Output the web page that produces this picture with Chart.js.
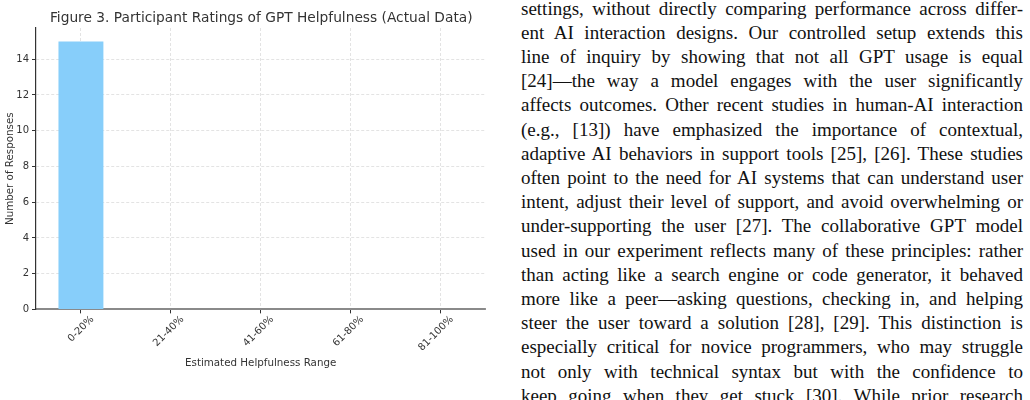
<!DOCTYPE html>
<html>
<head>
<meta charset="utf-8">
<script src="https://cdn.jsdelivr.net/npm/chart.js@4"></script>
<style>
  html, body { margin: 0; padding: 0; background: #fff; }
  body { width: 1030px; height: 400px; position: relative; overflow: hidden; }
  #chart-wrap { position: absolute; left: 0; top: 0; width: 521px; height: 400px; }
  #text { position: absolute; left: 521px; top: -3.5px; width: 502px;
    font-family: "Liberation Serif", "Times New Roman", serif; font-size: 19px;
    line-height: 24.2px; color: #111; }
  #text div { text-align: justify; text-align-last: justify; hyphens: none; }
</style>
</head>
<body>
<div id="chart-wrap"><canvas id="ratings" width="521" height="400"></canvas></div>
<div id="text">
  <div>settings, without directly comparing performance across differ-</div>
  <div>ent AI interaction designs. Our controlled setup extends this</div>
  <div>line of inquiry by showing that not all GPT usage is equal</div>
  <div>[24]—the way a model engages with the user significantly</div>
  <div>affects outcomes. Other recent studies in human-AI interaction</div>
  <div>(e.g., [13]) have emphasized the importance of contextual,</div>
  <div>adaptive AI behaviors in support tools [25], [26]. These studies</div>
  <div>often point to the need for AI systems that can understand user</div>
  <div>intent, adjust their level of support, and avoid overwhelming or</div>
  <div>under-supporting the user [27]. The collaborative GPT model</div>
  <div>used in our experiment reflects many of these principles: rather</div>
  <div>than acting like a search engine or code generator, it behaved</div>
  <div>more like a peer—asking questions, checking in, and helping</div>
  <div>steer the user toward a solution [28], [29]. This distinction is</div>
  <div>especially critical for novice programmers, who may struggle</div>
  <div>not only with technical syntax but with the confidence to</div>
  <div>keep going when they get stuck [30]. While prior research</div>
</div>
<script>
const ranges = ['0-20%', '21-40%', '41-60%', '61-80%', '81-100%'];
const responses = [15, 0, 0, 0, 0];

const font = 'DejaVu Sans';

// Figure 3 - histogram of helpfulness ratings
const ratingsCtx = document.getElementById('ratings').getContext('2d');
new Chart(ratingsCtx, {
  type: 'bar',
  data: {
    labels: ranges,
    datasets: [{
      data: responses,
      backgroundColor: '#87CEFA',
      borderWidth: 0,
      barPercentage: 0.5,
      categoryPercentage: 1
    }]
  },
  options: {
    responsive: false,
    animation: false,
    layout: { padding: { left: 1.5, right: 0, top: 0, bottom: 30 } },
    plugins: {
      legend: { display: false },
      tooltip: { enabled: false },
      title: {
        display: true,
        text: 'Figure 3. Participant Ratings of GPT Helpfulness (Actual Data)',
        color: '#333',
        font: { family: font, size: 13.75, weight: 'normal' },
        padding: { top: 10, bottom: 1.5 }
      }
    },
    scales: {
      x: {
        z: 1,
        grid: { offset: false, color: '#dcdcdc', lineWidth: 0.8, tickColor: '#333', tickLength: 4, tickWidth: 1 },
        border: { color: '#8a8a8a', width: 2, dash: [3, 2] },
        ticks: {
          color: '#333', font: { family: font, size: 10 },
          maxRotation: 45, minRotation: 45, labelOffset: 11.5, padding: 0
        },
        title: {
          display: true, text: 'Estimated Helpfulness Range', color: '#333',
          font: { family: font, size: 10.3 }, padding: { top: 4, bottom: 0 }
        }
      },
      y: {
        z: 1,
        min: 0,
        max: 15.75,
        afterFit: s => { s.width = 34.5; },
        grid: { color: '#dcdcdc', lineWidth: 0.8, tickColor: '#333', tickLength: 4, tickWidth: 1 },
        border: { color: '#333', width: 1.2, dash: [3, 2] },
        ticks: { stepSize: 2, includeBounds: false, color: '#333', font: { family: font, size: 10 }, padding: 3 },
        title: {
          display: true, text: 'Number of Responses', color: '#333',
          font: { family: font, size: 10.3 }, padding: { top: 3, bottom: 2 }
        }
      },
      // empty right-hand margin so the title stays centred over the plot
      pad: {
        position: 'right',
        afterFit: s => { s.width = 35.7; },
        grid: { display: false },
        border: { display: false },
        ticks: { display: false }
      }
    }
  }
});
</script>
</body>
</html>
